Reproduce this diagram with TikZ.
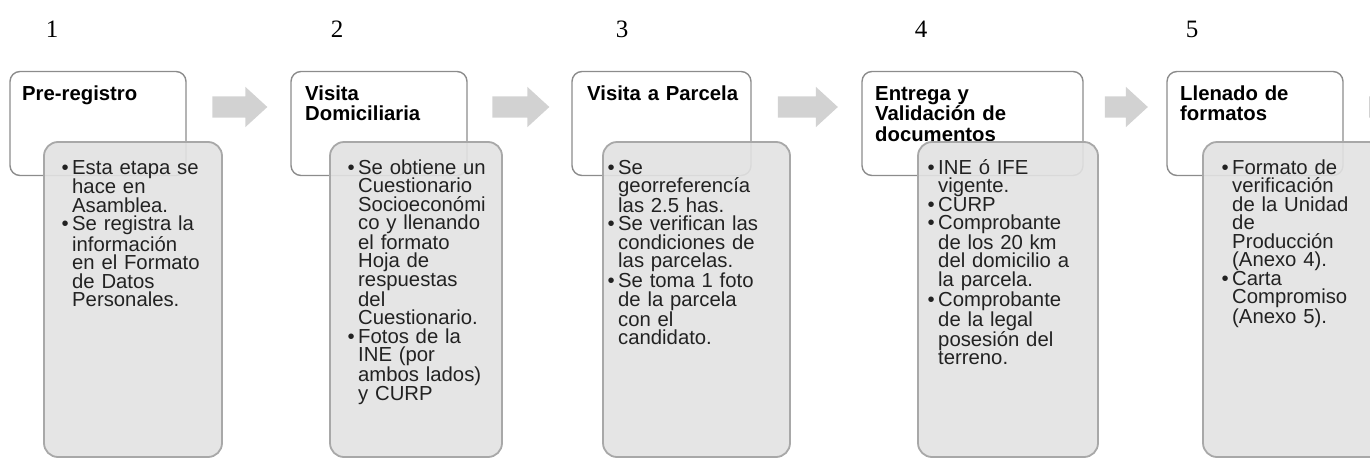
\documentclass[tikz,border=0pt]{standalone}
\usepackage{fontspec}
\setmainfont{Liberation Sans}
\newfontfamily\numfont{Liberation Serif}
\usetikzlibrary{shapes.arrows,calc}
\definecolor{boxline}{HTML}{8C8C8C}
\definecolor{cardline}{HTML}{A8A8A8}
\definecolor{cardfill}{HTML}{E2E2E2}
\definecolor{arrowfill}{HTML}{D2D2D2}
\definecolor{bodytext}{HTML}{222222}
\newcommand{\bul}{\leavevmode\llap{\textbullet\hspace{3.5pt}}}
\lineskiplimit=-100pt

\begin{document}
\begin{tikzpicture}[x=1pt,y=-1pt,
  stagenum/.style={anchor=base,font=\numfont\fontsize{25}{25}\selectfont},
  stagebox/.style={draw=boxline,line width=1.4pt,fill=white,rounded corners=10pt,minimum height=104pt,inner sep=0pt},
  stagetitle/.style={anchor=base west,align=left,text width=200pt,inner sep=0pt,font=\fontsize{20.3}{20.5}\selectfont\bfseries},
  detailbox/.style={draw=cardline,line width=1.8pt,fill=cardfill,fill opacity=0.9,rounded corners=14pt,minimum height=315pt,inner sep=0pt},
  detailtext/.style={anchor=base west,align=left,text width=170pt,inner sep=0pt,text=bodytext,font=\fontsize{20.3}{18.5}\selectfont},
  steparrow/.style={single arrow,fill=arrowfill,inner xsep=0pt,inner ysep=10.5pt,minimum width=0pt,single arrow head extend=9.5pt,single arrow tip angle=85}]
\useasboundingbox (0,0) rectangle (1370,458);
\begin{scope}[shift={(10,0)}]
\node[stagenum] (n1) at (42,37) {1};
\node[stagebox,minimum width=176pt] (s1) at (88,123.5) {};
\node[stagetitle] (t1) at (12,100) {Pre-registro};
\node[detailbox,minimum width=178pt] (d1) at (123,299.5) {};
\node[detailtext] (l1) at (62,174) {\bul Esta etapa se\\hace en\\Asamblea.\\
  \bul Se registra la\\información\\en el Formato\\de Datos\\Personales.};
\end{scope}
\begin{scope}[shift={(291,0)}]
\node[stagenum] (n2) at (46,37) {2};
\node[stagebox,minimum width=176pt] (s2) at (88,123.5) {};
\node[stagetitle] (t2) at (14,100) {Visita\\Domiciliaria};
\node[detailbox,minimum width=172pt] (d2) at (125,299.5) {};
\node[detailtext] (l2) at (67,174) {\bul Se obtiene un\\Cuestionario\\Socioeconómi\\co y llenando\\el formato\\Hoja de\\respuestas\\del\\Cuestionario.\\
  \bul Fotos de la\\INE (por\\ambos lados)\\y CURP};
\end{scope}
\begin{scope}[shift={(572,0)}]
\node[stagenum] (n3) at (50,37) {3};
\node[stagebox,minimum width=179pt] (s3) at (89.5,123.5) {};
\node[stagetitle] (t3) at (15,100) {Visita a Parcela};
\node[detailbox,minimum width=187pt] (d3) at (124.5,299.5) {};
\node[detailtext] (l3) at (46,174) {\bul Se\\georreferencía\\las 2.5 has.\\
  \bul Se verifican las\\condiciones de\\las parcelas.\\
  \bul Se toma 1 foto\\de la parcela\\con el\\candidato.};
\end{scope}
\begin{scope}[shift={(862,0)}]
\node[stagenum] (n4) at (59,37) {4};
\node[stagebox,minimum width=221pt] (s4) at (110.5,123.5) {};
\node[stagetitle] (t4) at (13,100) {Entrega y\\Validación de\\documentos};
\node[detailbox,minimum width=180pt] (d4) at (146,299.5) {};
\node[detailtext] (l4) at (76,174) {\bul INE ó IFE\\vigente.\\
  \bul CURP\\
  \bul Comprobante\\de los 20 km\\del domicilio a\\la parcela.\\
  \bul Comprobante\\de la legal\\posesión del\\terreno.};
\end{scope}
\begin{scope}[shift={(1167,0)}]
\node[stagenum] (n5) at (25,37) {5};
\node[stagebox,minimum width=176pt] (s5) at (88,123.5) {};
\node[stagetitle] (t5) at (13,100) {Llenado de\\formatos};
\node[detailbox,minimum width=180pt] (d5) at (126,299.5) {};
\node[detailtext] (l5) at (65,174) {\bul Formato de\\verificación\\de la Unidad\\de\\Producción\\(Anexo 4).\\
  \bul Carta\\Compromiso\\(Anexo 5).};
\end{scope}
\node[steparrow,minimum height=55pt] (a1) at ($(s1.east)!0.5!(s2.west)+(-4.5,-16.5)$) {};
\node[steparrow,minimum height=57pt] (a2) at ($(s2.east)!0.5!(s3.west)+(-4.5,-16.5)$) {};
\node[steparrow,minimum height=60pt] (a3) at ($(s3.east)!0.5!(s4.west)+(-4.5,-16.5)$) {};
\node[steparrow,minimum height=43pt] (a4) at ($(s4.east)!0.5!(s5.west)+(-4.5,-16.5)$) {};
\node[steparrow,minimum height=55pt] (a5) at ($(s5.east)+(47,-16.5)$) {};
\end{tikzpicture}
\end{document}
